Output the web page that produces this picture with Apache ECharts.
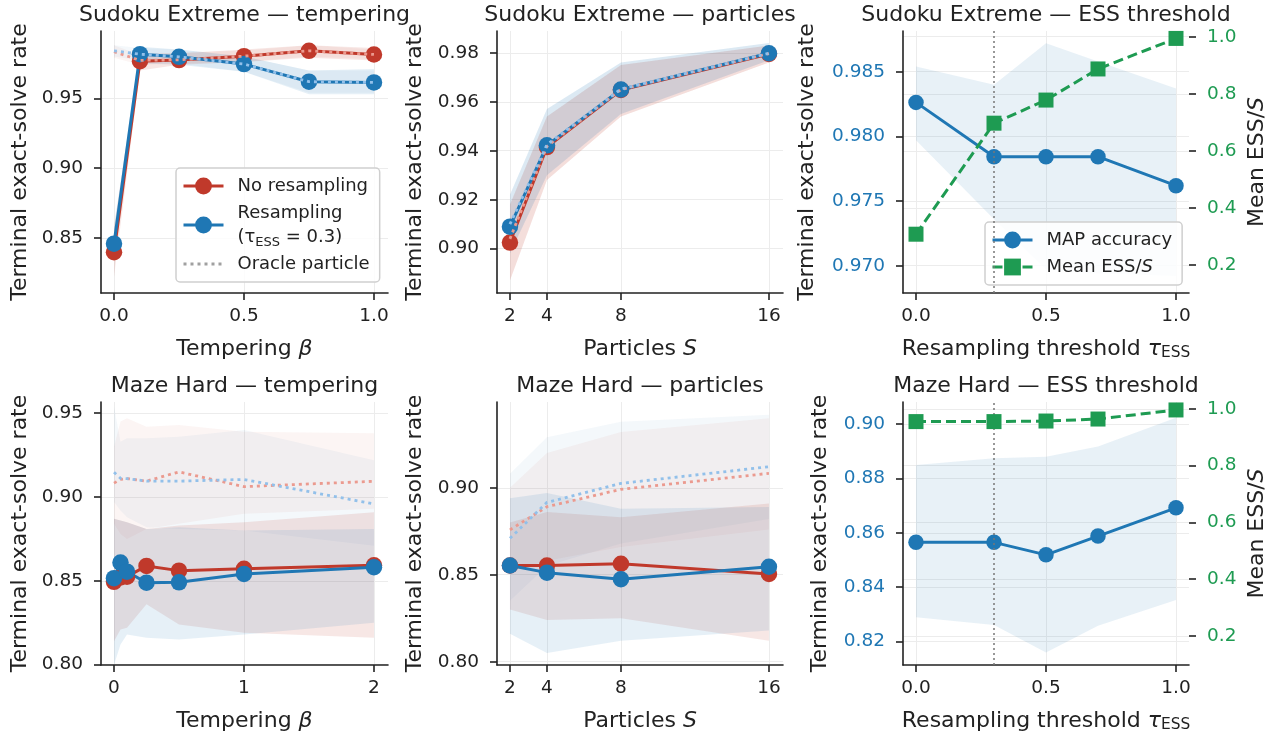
<!DOCTYPE html>
<html>
<head>
<meta charset="utf-8">
<script src="https://cdn.jsdelivr.net/npm/echarts@6/dist/echarts.min.js"></script>
<style>
html, body { margin: 0; padding: 0; background: #fff; }
#chart { width: 1273px; height: 738px; }
</style>
</head>
<body>
<div id="chart"></div>
<script>
// ---- data ----
var betaSudoku = [0, 0.1, 0.25, 0.5, 0.75, 1.0];
var betaMaze = [0, 0.05, 0.1, 0.25, 0.5, 1.0, 2.0];
var particles = [2, 4, 8, 16];
var tauEss = [0, 0.3, 0.5, 0.7, 1.0];
var tauChosen = 0.3;

// Sudoku Extreme - tempering
var sudTempNoRes = [0.8398, 0.9766, 0.9774, 0.9802, 0.9840, 0.9814];
var sudTempNoResLo = [0.822, 0.970, 0.974, 0.976, 0.979, 0.977];
var sudTempNoResHi = [0.858, 0.982, 0.982, 0.985, 0.988, 0.986];
var sudTempRes = [0.8459, 0.9816, 0.9797, 0.9745, 0.9619, 0.9614];
var sudTempResLo = [0.835, 0.975, 0.974, 0.969, 0.953, 0.953];
var sudTempResHi = [0.857, 0.987, 0.985, 0.980, 0.970, 0.971];
var sudTempOrNoRes = [0.9834, 0.9772, 0.9776, 0.9802, 0.9840, 0.9814];
var sudTempOrNoResLo = [0.979, 0.974, 0.975, 0.976, 0.980, 0.978];
var sudTempOrNoResHi = [0.988, 0.981, 0.983, 0.984, 0.988, 0.985];
var sudTempOrRes = [0.9840, 0.9816, 0.9797, 0.9745, 0.9619, 0.9614];
var sudTempOrResLo = [0.980, 0.977, 0.975, 0.969, 0.954, 0.954];
var sudTempOrResHi = [0.988, 0.986, 0.985, 0.980, 0.970, 0.970];

// Sudoku Extreme - particles
var sudPartNoRes = [0.9025, 0.9415, 0.9648, 0.9795];
var sudPartNoResLo = [0.887, 0.928, 0.954, 0.976];
var sudPartNoResHi = [0.918, 0.954, 0.975, 0.983];
var sudPartRes = [0.9090, 0.9422, 0.9650, 0.9798];
var sudPartResLo = [0.898, 0.930, 0.955, 0.977];
var sudPartResHi = [0.922, 0.957, 0.976, 0.984];
var sudPartOrNoRes = [0.9040, 0.9418, 0.9650, 0.9797];
var sudPartOrRes = [0.9100, 0.9425, 0.9652, 0.9798];

// Sudoku Extreme - ESS threshold
var sudEssMap = [0.98263, 0.97843, 0.97843, 0.97843, 0.97619];
var sudEssMapLo = [0.9797, 0.9736, 0.9697, 0.9694, 0.9692];
var sudEssMapHi = [0.9854, 0.9840, 0.9872, 0.9858, 0.9837];
var sudEssRatio = [0.308, 0.697, 0.778, 0.887, 0.994];

// Maze Hard - tempering
var mazeTempNoRes = [0.8494, 0.8520, 0.8525, 0.8589, 0.8561, 0.8572, 0.8593];
var mazeTempNoResLo = [0.814, 0.821, 0.822, 0.836, 0.824, 0.819, 0.816];
var mazeTempNoResHi = [0.887, 0.886, 0.885, 0.881, 0.883, 0.885, 0.891];
var mazeTempRes = [0.8516, 0.8609, 0.8555, 0.8489, 0.8491, 0.8541, 0.8581];
var mazeTempResLo = [0.800, 0.812, 0.818, 0.816, 0.815, 0.818, 0.825];
var mazeTempResHi = [0.887, 0.886, 0.885, 0.881, 0.882, 0.880, 0.881];
var mazeTempOrNoRes = [0.9083, 0.9105, 0.9110, 0.9095, 0.9150, 0.9062, 0.9094];
var mazeTempOrNoResLo = [0.884, 0.878, 0.875, 0.881, 0.884, 0.890, 0.893];
var mazeTempOrNoResHi = [0.930, 0.945, 0.947, 0.942, 0.943, 0.939, 0.938];
var mazeTempOrRes = [0.9148, 0.9112, 0.9110, 0.9095, 0.9095, 0.9105, 0.8959];
var mazeTempOrResLo = [0.897, 0.892, 0.888, 0.882, 0.881, 0.880, 0.871];
var mazeTempOrResHi = [0.954, 0.933, 0.935, 0.935, 0.936, 0.940, 0.922];

// Maze Hard - particles
var mazePartNoRes = [0.8553, 0.8553, 0.8563, 0.8504];
var mazePartNoResLo = [0.830, 0.824, 0.825, 0.812];
var mazePartNoResHi = [0.880, 0.886, 0.883, 0.891];
var mazePartRes = [0.8553, 0.8512, 0.8474, 0.8546];
var mazePartResLo = [0.816, 0.805, 0.812, 0.818];
var mazePartResHi = [0.894, 0.897, 0.888, 0.889];
var mazePartOrNoRes = [0.8758, 0.8891, 0.8991, 0.9083];
var mazePartOrNoResLo = [0.852, 0.858, 0.866, 0.876];
var mazePartOrNoResHi = [0.900, 0.920, 0.932, 0.940];
var mazePartOrRes = [0.8709, 0.8916, 0.9025, 0.9121];
var mazePartOrResLo = [0.835, 0.855, 0.868, 0.882];
var mazePartOrResHi = [0.908, 0.929, 0.938, 0.942];

// Maze Hard - ESS threshold
var mazeEssMap = [0.8565, 0.8565, 0.8519, 0.8588, 0.8692];
var mazeEssMapLo = [0.8290, 0.8261, 0.8160, 0.8258, 0.8353];
var mazeEssMapHi = [0.8849, 0.8874, 0.8880, 0.8917, 0.9023];
var mazeEssRatio = [0.955, 0.955, 0.957, 0.964, 0.996];

// tick labels
var ticksBetaSud = [0, 0.5, 1.0];
var ticksBetaMaze = [0, 1, 2];
var ticksParticles = [2, 4, 8, 16];
var ticksTau = [0, 0.5, 1.0];
var ticksSudTempY = [0.85, 0.90, 0.95];
var ticksSudPartY = [0.90, 0.92, 0.94, 0.96, 0.98];
var ticksSudEssY = [0.970, 0.975, 0.980, 0.985];
var ticksMazeTempY = [0.80, 0.85, 0.90, 0.95];
var ticksMazePartY = [0.80, 0.85, 0.90];
var ticksMazeEssY = [0.82, 0.84, 0.86, 0.88, 0.90];
var ticksRatio = [0.2, 0.4, 0.6, 0.8, 1.0];

// ---- styling ----
var FONT = 'DejaVu Sans';
var INK = '#222';
var RED = '#c0392b', BLUE = '#1f77b4', GREEN = '#1e9b52';
var RED_L = '#eb9a8f', BLUE_L = '#92c0ea', GREY_L = '#a0a0a0';
var RED_BAND = 'rgba(192,57,43,0.12)', BLUE_BAND = 'rgba(31,119,180,0.11)';
var RED_OBAND = 'rgba(192,57,43,0.05)', BLUE_OBAND = 'rgba(31,119,180,0.05)';
var DOTS = [3, 4];
var TICK_FS = 18.5, NAME_FS = 22;

var grids = [
    {left: 101, top: 31, width: 287, height: 262},
    {left: 497, top: 31, width: 286, height: 262},
    {left: 903, top: 31, width: 286, height: 262},
    {left: 101, top: 402, width: 287, height: 263},
    {left: 497, top: 402, width: 286, height: 263},
    {left: 903, top: 402, width: 286, height: 263}
];
var titles = ['Sudoku Extreme — tempering', 'Sudoku Extreme — particles', 'Sudoku Extreme — ESS threshold',
    'Maze Hard — tempering', 'Maze Hard — particles', 'Maze Hard — ESS threshold'];

function richFor(size) {
    return {
        i: {fontStyle: 'italic', fontSize: size, fontFamily: FONT, color: INK},
        sub: {fontSize: size * 0.7, fontFamily: FONT, color: INK, verticalAlign: 'bottom', lineHeight: size * 0.7}
    };
}

function xAx(gi, min, max, ticks, dec, name) {
    return {
        type: 'value', gridIndex: gi, min: min, max: max,
        name: name, nameLocation: 'middle', nameGap: 45,
        nameTextStyle: {fontSize: NAME_FS, color: INK, fontFamily: FONT, rich: richFor(NAME_FS)},
        axisLine: {show: true, onZero: false, lineStyle: {color: INK, width: 1.6}},
        axisTick: {show: true, length: 7, customValues: ticks, lineStyle: {color: INK, width: 1.6}},
        axisLabel: {show: true, customValues: ticks, margin: 14, fontSize: TICK_FS, color: INK, fontFamily: FONT,
            formatter: function(v) { return v.toFixed(dec); }},
        splitLine: {show: true, lineStyle: {color: '#ececec', width: 1}}
    };
}

function yAx(gi, min, max, ticks, dec, opt) {
    opt = opt || {};
    var right = opt.right;
    return {
        type: 'value', gridIndex: gi, min: min, max: max, position: right ? 'right' : 'left',
        name: opt.name, nameLocation: 'middle', nameRotate: 90, nameGap: opt.gap,
        nameTextStyle: {fontSize: NAME_FS, color: INK, fontFamily: FONT, rich: richFor(NAME_FS)},
        axisLine: {show: !right, onZero: false, lineStyle: {color: INK, width: 1.6}},
        axisTick: {show: true, length: 7, customValues: ticks, lineStyle: {color: INK, width: 1.6}},
        axisLabel: {show: true, customValues: ticks, margin: 18, fontSize: TICK_FS, color: opt.color || INK, fontFamily: FONT,
            formatter: function(v) { return v.toFixed(dec); }},
        splitLine: {show: true, lineStyle: {color: '#ececec', width: 1}}
    };
}

function pairs(xs, ys) {
    return xs.map(function(x, i) { return [x, ys[i]]; });
}

// shaded band between lo and hi, drawn once through the axis scales
function band(gi, yi, xs, lo, hi, color) {
    return {
        type: 'custom', xAxisIndex: gi, yAxisIndex: yi, silent: true, z: 1, clip: true,
        data: xs.map(function(x, i) { return [x, lo[i], hi[i]]; }),
        encode: {x: 0, y: [1, 2]},
        renderItem: function(params, api) {
            if (params.dataIndex !== 0) return;
            var top = [], bot = [];
            for (var i = 0; i < xs.length; i++) {
                top.push(api.coord([xs[i], hi[i]]));
                bot.unshift(api.coord([xs[i], lo[i]]));
            }
            return {type: 'polygon', shape: {points: top.concat(bot)}, style: {fill: color}};
        }
    };
}

function mapLine(name, gi, yi, xs, ys, color, size) {
    return {
        name: name, type: 'line', xAxisIndex: gi, yAxisIndex: yi, data: pairs(xs, ys),
        symbol: 'circle', symbolSize: size || 16.5, z: 3,
        lineStyle: {color: color, width: 3}, itemStyle: {color: color}
    };
}

function oracleLine(name, gi, xs, ys, color) {
    return {
        name: name, type: 'line', xAxisIndex: gi, yAxisIndex: gi, data: pairs(xs, ys),
        symbol: 'none', z: 4, silent: true,
        lineStyle: {color: color, width: 2.8, type: DOTS}
    };
}

function essLine(gi, yi, xs, ys) {
    return {
        name: 'Mean ESS/S', type: 'line', xAxisIndex: gi, yAxisIndex: yi, data: pairs(xs, ys),
        symbol: 'rect', symbolSize: 15, z: 5,
        lineStyle: {color: GREEN, width: 3, type: [10, 5]}, itemStyle: {color: GREEN}
    };
}

var vline = {
    silent: true, symbol: ['none', 'none'], label: {show: false},
    lineStyle: {color: '#777', type: [2, 3], width: 1.5},
    data: [{xAxis: tauChosen}]
};

var YNAME = 'Terminal exact-solve rate';
var xAxes = [
    xAx(0, -0.05, 1.054, ticksBetaSud, 1, 'Tempering {i|β}'),
    xAx(1, 1.3, 16.76, ticksParticles, 0, 'Particles {i|S}'),
    xAx(2, -0.05, 1.05, ticksTau, 1, 'Resampling threshold {i|τ}{sub|ESS}'),
    xAx(3, -0.1, 2.108, ticksBetaMaze, 0, 'Tempering {i|β}'),
    xAx(4, 1.3, 16.76, ticksParticles, 0, 'Particles {i|S}'),
    xAx(5, -0.05, 1.05, ticksTau, 1, 'Resampling threshold {i|τ}{sub|ESS}')
];
var yAxes = [
    yAx(0, 0.8106, 0.9982, ticksSudTempY, 2, {name: YNAME, gap: 70}),
    yAx(1, 0.8819, 0.9889, ticksSudPartY, 2, {name: YNAME, gap: 71}),
    yAx(2, 0.96789, 0.98815, ticksSudEssY, 3, {name: YNAME, gap: 85, color: BLUE}),
    yAx(3, 0.7998, 0.9567, ticksMazeTempY, 2, {name: YNAME, gap: 70}),
    yAx(4, 0.7981, 0.9493, ticksMazePartY, 2, {name: YNAME, gap: 71}),
    yAx(5, 0.8114, 0.9081, ticksMazeEssY, 2, {name: YNAME, gap: 72, color: BLUE}),
    yAx(2, 0.102, 1.02, ticksRatio, 1, {right: true, name: 'Mean ESS/{i|S}', gap: 57, color: GREEN}),
    yAx(5, 0.098, 1.024, ticksRatio, 1, {right: true, name: 'Mean ESS/{i|S}', gap: 57, color: GREEN})
];

var series = [
    // panel 1
    band(0, 0, betaSudoku, sudTempOrNoResLo, sudTempOrNoResHi, RED_OBAND),
    band(0, 0, betaSudoku, sudTempOrResLo, sudTempOrResHi, BLUE_OBAND),
    band(0, 0, betaSudoku, sudTempNoResLo, sudTempNoResHi, RED_BAND),
    band(0, 0, betaSudoku, sudTempResLo, sudTempResHi, BLUE_BAND),
    mapLine('No resampling', 0, 0, betaSudoku, sudTempNoRes, RED),
    mapLine('Resampling', 0, 0, betaSudoku, sudTempRes, BLUE),
    oracleLine('oracle-nr', 0, betaSudoku, sudTempOrNoRes, RED_L),
    oracleLine('oracle-r', 0, betaSudoku, sudTempOrRes, BLUE_L),
    {name: 'Oracle particle', type: 'line', xAxisIndex: 0, yAxisIndex: 0, data: [], symbol: 'none',
        itemStyle: {color: 'rgba(0,0,0,0)', borderWidth: 0},
        lineStyle: {color: GREY_L, width: 2.8, type: DOTS}},
    // panel 2
    band(1, 1, particles, sudPartNoResLo, sudPartNoResHi, RED_BAND),
    band(1, 1, particles, sudPartResLo, sudPartResHi, BLUE_BAND),
    band(1, 1, particles, sudPartNoResLo, sudPartNoResHi, RED_OBAND),
    band(1, 1, particles, sudPartResLo, sudPartResHi, BLUE_OBAND),
    mapLine('No resampling', 1, 1, particles, sudPartNoRes, RED),
    mapLine('Resampling', 1, 1, particles, sudPartRes, BLUE),
    oracleLine('oracle-nr', 1, particles, sudPartOrNoRes, RED_L),
    oracleLine('oracle-r', 1, particles, sudPartOrRes, BLUE_L),
    // panel 3
    band(2, 2, tauEss, sudEssMapLo, sudEssMapHi, 'rgba(31,119,180,0.10)'),
    Object.assign(mapLine('MAP accuracy', 2, 2, tauEss, sudEssMap, BLUE, 15.5), {markLine: vline}),
    essLine(2, 6, tauEss, sudEssRatio),
    // panel 4
    band(3, 3, betaMaze, mazeTempOrNoResLo, mazeTempOrNoResHi, RED_OBAND),
    band(3, 3, betaMaze, mazeTempOrResLo, mazeTempOrResHi, BLUE_OBAND),
    band(3, 3, betaMaze, mazeTempNoResLo, mazeTempNoResHi, RED_BAND),
    band(3, 3, betaMaze, mazeTempResLo, mazeTempResHi, BLUE_BAND),
    mapLine('No resampling', 3, 3, betaMaze, mazeTempNoRes, RED),
    mapLine('Resampling', 3, 3, betaMaze, mazeTempRes, BLUE),
    oracleLine('oracle-nr', 3, betaMaze, mazeTempOrNoRes, RED_L),
    oracleLine('oracle-r', 3, betaMaze, mazeTempOrRes, BLUE_L),
    // panel 5
    band(4, 4, particles, mazePartOrNoResLo, mazePartOrNoResHi, RED_OBAND),
    band(4, 4, particles, mazePartOrResLo, mazePartOrResHi, BLUE_OBAND),
    band(4, 4, particles, mazePartNoResLo, mazePartNoResHi, RED_BAND),
    band(4, 4, particles, mazePartResLo, mazePartResHi, BLUE_BAND),
    mapLine('No resampling', 4, 4, particles, mazePartNoRes, RED),
    mapLine('Resampling', 4, 4, particles, mazePartRes, BLUE),
    oracleLine('oracle-nr', 4, particles, mazePartOrNoRes, RED_L),
    oracleLine('oracle-r', 4, particles, mazePartOrRes, BLUE_L),
    // panel 6
    band(5, 5, tauEss, mazeEssMapLo, mazeEssMapHi, 'rgba(31,119,180,0.10)'),
    Object.assign(mapLine('MAP accuracy', 5, 5, tauEss, mazeEssMap, BLUE, 15.5), {markLine: vline}),
    essLine(5, 7, tauEss, mazeEssRatio)
];

var legendText = {fontSize: 18, color: INK, fontFamily: FONT, padding: [0, 0, 0, 9], lineHeight: 24,
    rich: {sub: {fontSize: 13, fontFamily: FONT, color: INK, verticalAlign: 'bottom', lineHeight: 13},
           i: {fontSize: 18, fontFamily: FONT, color: INK, fontStyle: 'italic'}}};

var option = {
    animation: false,
    backgroundColor: '#fff',
    textStyle: {fontFamily: FONT},
    title: titles.map(function(t, i) {
        var g = grids[i];
        return {text: t, left: g.left + g.width / 2, top: i < 3 ? 4 : 375, textAlign: 'center', padding: 0,
            textStyle: {fontSize: NAME_FS, fontWeight: 'normal', color: INK, fontFamily: FONT}};
    }),
    grid: grids.map(function(g) {
        return {left: g.left, top: g.top, width: g.width, height: g.height, containLabel: false, outerBoundsMode: 'none'};
    }),
    xAxis: xAxes,
    yAxis: yAxes,
    legend: [{
        data: ['No resampling', 'Resampling', 'Oracle particle'],
        left: 176, top: 168, orient: 'vertical', itemWidth: 40, itemHeight: 21, itemGap: 3,
        padding: [6, 10, 6, 6], borderColor: '#cfcfcf', borderWidth: 1.5, borderRadius: 4,
        backgroundColor: 'rgba(255,255,255,0.85)', selectedMode: false, textStyle: legendText,
        lineStyle: {width: 3},
        formatter: function(n) { return n === 'Resampling' ? 'Resampling\n(τ{sub|ESS} = 0.3)' : n; }
    }, {
        data: ['MAP accuracy', 'Mean ESS/S'],
        left: 985, top: 222, orient: 'vertical', itemWidth: 40, itemHeight: 21, itemGap: 3,
        padding: [6, 10, 6, 6], borderColor: '#cfcfcf', borderWidth: 1.5, borderRadius: 4,
        backgroundColor: 'rgba(255,255,255,0.85)', selectedMode: false, textStyle: legendText,
        lineStyle: {width: 3},
        formatter: function(n) { return n === 'Mean ESS/S' ? 'Mean ESS/{i|S}' : n; }
    }],
    series: series
};

var chart = echarts.init(document.getElementById('chart'), null, {renderer: 'canvas'});
chart.setOption(option);
</script>
</body>
</html>
